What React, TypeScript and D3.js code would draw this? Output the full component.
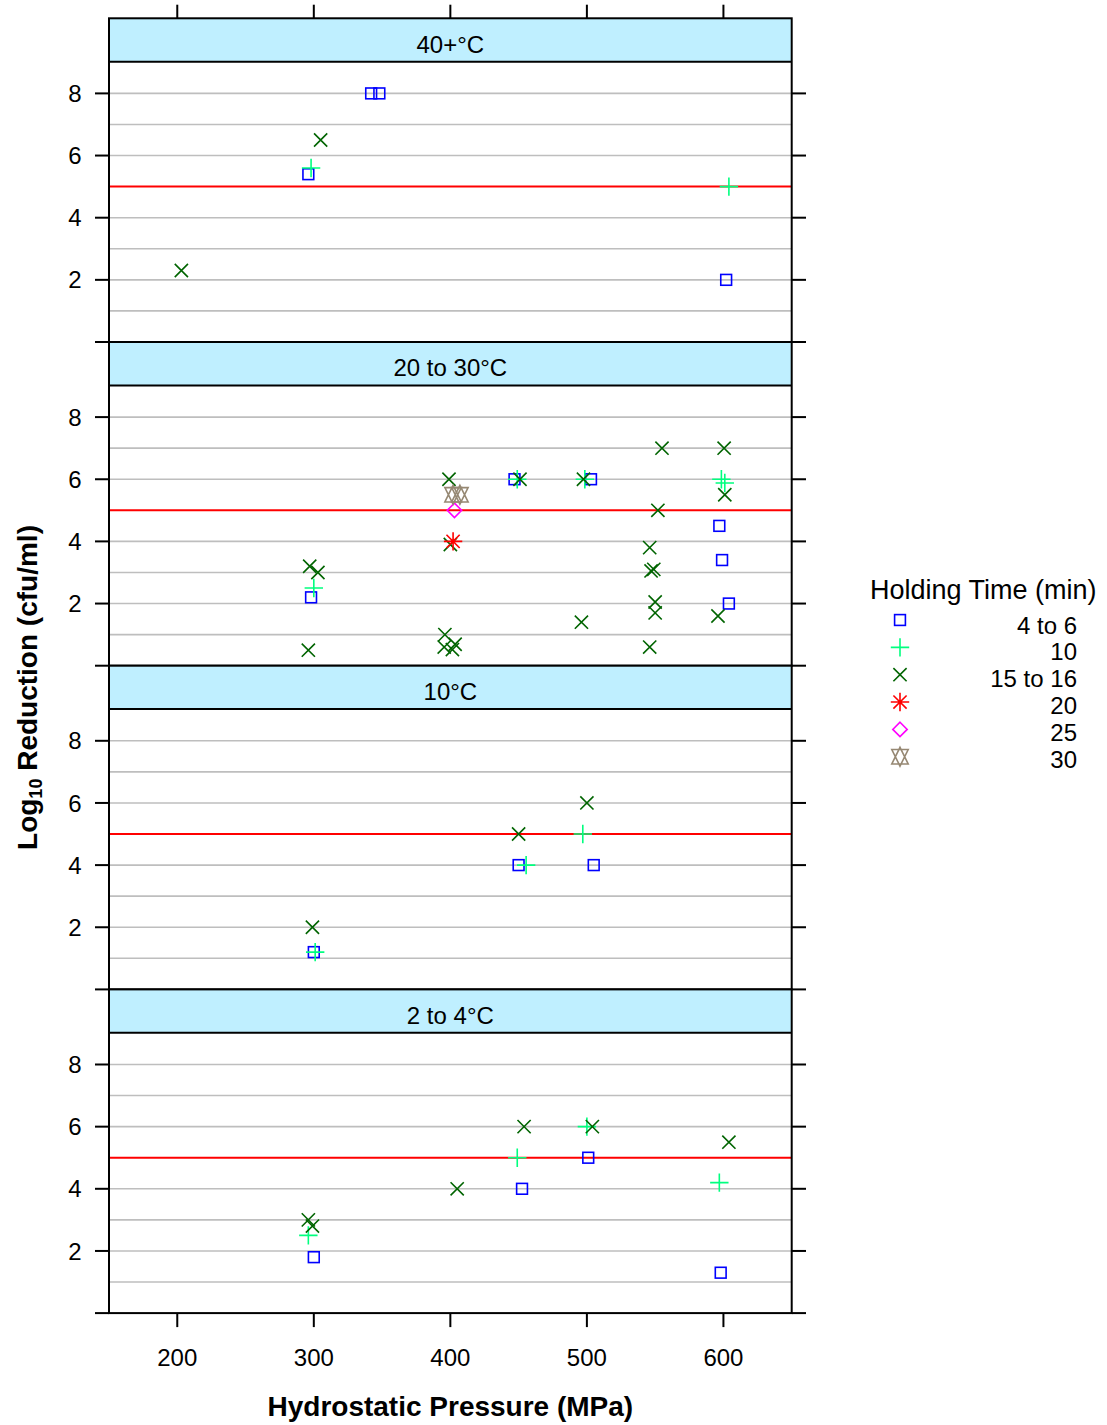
import React from "react";
import * as d3 from "d3";

// Holding-time groups (legend order) and their symbol styles
const holdingTimes = ["4 to 6", "10", "15 to 16", "20", "25", "30"];
const symbolColors = ["#0000FF", "#00FF7F", "#006400", "#FF0000", "#FF00FF", "#968873"];
const symbolShapes = ["square", "plus", "cross", "asterisk", "diamond", "star"];

// Panel (temperature) labels, top to bottom
const panelLabels = ["40+°C", "20 to 30°C", "10°C", "2 to 4°C"];

// Each point: [hydrostatic pressure (MPa), log10 reduction, holding-time group index]
const panel40: [number, number, number][] = [
  [296, 5.4, 0], [342, 8.0, 0], [348, 8.0, 0], [602, 2.0, 0],
  [298, 5.6, 1], [604, 5.0, 1],
  [203, 2.3, 2], [305, 6.5, 2],
];

const panel20to30: [number, number, number][] = [
  [298, 2.2, 0], [447, 6.0, 0], [503, 6.0, 0], [597, 4.5, 0], [599, 3.4, 0], [604, 2.0, 0],
  [300, 2.5, 1], [449, 6.0, 1], [498.5, 6.0, 1], [598.5, 6.0, 1], [601, 5.88, 1],
  [297, 3.2, 2], [303, 3.0, 2], [296, 0.5, 2], [399, 6.0, 2], [400, 3.9, 2],
  [396, 1.0, 2], [395.5, 0.6, 2], [401.5, 0.52, 2], [403.5, 0.69, 2],
  [451, 6.0, 2], [497.5, 6.0, 2], [555, 7.0, 2], [600.5, 7.0, 2], [601, 5.5, 2],
  [552, 5.0, 2], [546, 3.8, 2], [547, 3.05, 2], [549, 3.1, 2], [550, 2.05, 2],
  [550, 1.7, 2], [496, 1.4, 2], [546, 0.6, 2], [596, 1.6, 2],
  [402, 4.0, 3],
  [403, 5.0, 4],
  [402, 5.5, 5], [407, 5.5, 5],
];

const panel10: [number, number, number][] = [
  [300, 1.2, 0], [450, 4.0, 0], [505, 4.0, 0],
  [301, 1.2, 1], [455.5, 4.0, 1], [497, 5.0, 1],
  [299, 2.0, 2], [450, 5.0, 2], [500, 6.0, 2],
];

const panel2to4: [number, number, number][] = [
  [300, 1.8, 0], [452.5, 4.0, 0], [501, 5.0, 0], [598, 1.3, 0],
  [296, 2.5, 1], [449, 5.0, 1], [500, 6.0, 1], [597, 4.2, 1],
  [296, 3.0, 2], [299, 2.8, 2], [405, 4.0, 2], [454, 6.0, 2], [504, 6.0, 2], [604, 5.5, 2],
];

const panelData = [panel40, panel20to30, panel10, panel2to4];

const xTicks = [200, 300, 400, 500, 600];
const yTickMarks = [0, 2, 4, 6, 8];
const yTickLabels = [2, 4, 6, 8];
const yGridLines = [1, 2, 3, 4, 6, 7, 8];
const targetReduction = 5;

const xDomain: [number, number] = [150, 650];
const yDomain: [number, number] = [0, 9.02];

// layout
const W = 1107;
const H = 1425;
const plotLeft = 109;
const plotRight = 791.7;
const firstTop = 18.3;
const panelStep = 323.7;
const stripH = 43.4;
const FONT = "'Liberation Sans', Arial, Helvetica, sans-serif";

function Symbol({ shape, x, y, color }: { shape: string; x: number; y: number; color: string }) {
  const sw = 1.6;
  const common = { fill: "none", stroke: color, strokeWidth: sw };
  if (shape === "square") {
    const h = 5.4;
    return <rect x={x - h} y={y - h} width={2 * h} height={2 * h} {...common} />;
  }
  if (shape === "plus") {
    const h = 9.2;
    return <path d={`M${x - h},${y}H${x + h}M${x},${y - h}V${y + h}`} {...common} />;
  }
  if (shape === "cross") {
    const h = 6.6;
    return <path d={`M${x - h},${y - h}L${x + h},${y + h}M${x - h},${y + h}L${x + h},${y - h}`} {...common} />;
  }
  if (shape === "asterisk") {
    const h = 6.6;
    const p = 9.2;
    return (
      <path
        d={`M${x - h},${y - h}L${x + h},${y + h}M${x - h},${y + h}L${x + h},${y - h}M${x - p},${y}H${x + p}M${x},${y - p}V${y + p}`}
        {...common}
      />
    );
  }
  if (shape === "diamond") {
    const h = 7.2;
    return <path d={`M${x},${y - h}L${x + h},${y}L${x},${y + h}L${x - h},${y}Z`} {...common} />;
  }
  // star: triangle up + triangle down
  const r = 9.4;
  const yc = 7.2;
  const xc = 8.2;
  return (
    <path
      d={`M${x},${y - r}L${x + xc},${y + yc}L${x - xc},${y + yc}ZM${x},${y + r}L${x + xc},${y - yc}L${x - xc},${y - yc}Z`}
      {...common}
      strokeLinejoin="miter"
    />
  );
}

export default function App() {
  const x = d3.scaleLinear().domain(xDomain).range([plotLeft, plotRight]);
  const legendSymY = (i: number) => 620 + i * 27.35;
  const legendLabY = (i: number) => 633.5 + i * 26.8;
  const bottomEdge = firstTop + panelStep * panelLabels.length;

  return (
    <svg
      width={W}
      height={H}
      style={{ position: "absolute", left: 0, top: 0, background: "#fff" }}
      fontFamily={FONT}
    >
      <rect x={0} y={0} width={W} height={H} fill="#fff" />
      {panelLabels.map((label, i) => {
        const stripTop = firstTop + i * panelStep;
        const dataTop = stripTop + stripH;
        const dataBottom = stripTop + panelStep;
        const y = d3.scaleLinear().domain(yDomain).range([dataBottom, dataTop]);
        const pts = [...panelData[i]].sort((a, b) => a[2] - b[2]);
        return (
          <g key={label}>
            <rect x={plotLeft} y={stripTop} width={plotRight - plotLeft} height={stripH} fill="#BFEFFF" />
            <text x={(plotLeft + plotRight) / 2} y={stripTop + 34.3} fontSize={24} textAnchor="middle" fill="#000">
              {label}
            </text>
            {yGridLines.map((g) => (
              <line key={g} x1={plotLeft} x2={plotRight} y1={y(g)} y2={y(g)} stroke="#BEBEBE" strokeWidth={1.6} />
            ))}
            <line
              x1={plotLeft}
              x2={plotRight}
              y1={y(targetReduction)}
              y2={y(targetReduction)}
              stroke="#FF0000"
              strokeWidth={2}
            />
            {pts.map((p, k) => (
              <Symbol key={k} shape={symbolShapes[p[2]]} x={x(p[0])} y={y(p[1])} color={symbolColors[p[2]]} />
            ))}
            {/* borders */}
            <rect
              x={plotLeft}
              y={stripTop}
              width={plotRight - plotLeft}
              height={panelStep}
              fill="none"
              stroke="#000"
              strokeWidth={2}
            />
            <line x1={plotLeft} x2={plotRight} y1={dataTop} y2={dataTop} stroke="#000" strokeWidth={2} />
            {/* y ticks */}
            {yTickMarks.map((t) => (
              <g key={t}>
                <line x1={95} x2={plotLeft} y1={y(t)} y2={y(t)} stroke="#000" strokeWidth={2} />
                <line x1={plotRight} x2={806} y1={y(t)} y2={y(t)} stroke="#000" strokeWidth={2} />
              </g>
            ))}
            {yTickLabels.map((t) => (
              <text key={t} x={81.5} y={y(t) + 8.6} fontSize={24} textAnchor="end" fill="#000">
                {t}
              </text>
            ))}
          </g>
        );
      })}
      {/* x ticks top and bottom */}
      {xTicks.map((t) => (
        <g key={t}>
          <line x1={x(t)} x2={x(t)} y1={4.7} y2={firstTop} stroke="#000" strokeWidth={2} />
          <line x1={x(t)} x2={x(t)} y1={bottomEdge} y2={bottomEdge + 14} stroke="#000" strokeWidth={2} />
          <text x={x(t)} y={1366} fontSize={24} textAnchor="middle" fill="#000">
            {t}
          </text>
        </g>
      ))}
      {/* axis titles */}
      <text x={(plotLeft + plotRight) / 2} y={1416} fontSize={28} fontWeight="bold" textAnchor="middle" fill="#000">
        Hydrostatic Pressure (MPa)
      </text>
      <text
        transform="translate(37,687.5) rotate(-90)"
        fontSize={28}
        fontWeight="bold"
        textAnchor="middle"
        fill="#000"
      >
        Log
        <tspan fontSize={18} dy={5}>
          10
        </tspan>
        <tspan dy={-5}> Reduction (cfu/ml)</tspan>
      </text>
      {/* legend */}
      <text x={870} y={599.3} fontSize={27} fill="#000">
        Holding Time (min)
      </text>
      {holdingTimes.map((h, i) => (
        <g key={h}>
          <Symbol shape={symbolShapes[i]} x={900} y={legendSymY(i)} color={symbolColors[i]} />
          <text x={1077} y={legendLabY(i)} fontSize={24} textAnchor="end" fill="#000">
            {h}
          </text>
        </g>
      ))}
    </svg>
  );
}
